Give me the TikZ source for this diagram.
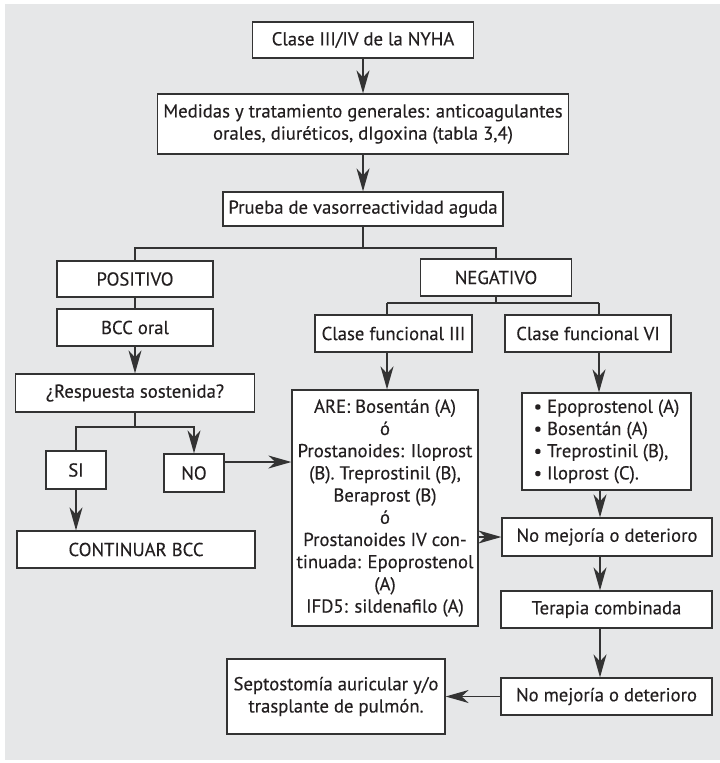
\documentclass[tikz,border=0pt]{standalone}
\usepackage{fontspec}
\setmainfont{PT Sans}[FakeBold=0.3]
\usetikzlibrary{arrows.meta}
\definecolor{panel}{HTML}{E6E7E8}
\definecolor{ink}{HTML}{231F20}
\definecolor{rule}{HTML}{333333}
\tikzset{
  box/.style={draw=rule, line width=1.2pt, fill=white, inner sep=0pt,
    align=center, text=ink, font=\fontsize{18.7pt}{22.2pt}\selectfont},
  link/.style={draw=rule, line width=1.4pt},
  flow/.style={link, -{Stealth[length=23pt,width=13pt,inset=7pt]}},
}
\begin{document}
\begin{tikzpicture}[x=1pt,y=-1pt]
\useasboundingbox (0,0) rectangle (720,763);
\fill[panel] (5,4) rectangle (720,760);

% main trunk
\node[box, minimum width=221pt, minimum height=36pt] (nyha) at (363,40) {Clase III/IV de la NYHA};
\node[box, minimum width=411pt, minimum height=60pt] (medidas) at (363,124)
  {Medidas y tratamiento generales: anticoagulantes\\orales, diuréticos, dIgoxina (tabla 3,4)};
\node[box, minimum width=280pt, minimum height=34pt] (prueba) at (363,209) {Prueba de vasorreactividad aguda};

% positive branch
\node[box, minimum width=156pt, minimum height=36pt] (pos) at (135,279) {POSITIVO};
\node[box, minimum width=156pt, minimum height=37pt] (bcc) at (135,327.5) {BCC oral};
\node[box, minimum width=239pt, minimum height=38pt] (resp) at (135,393) {¿Respuesta sostenida?};
\node[box, minimum width=60pt, minimum height=38pt] (si) at (76,470) {SI};
\node[box, minimum width=60pt, minimum height=38pt] (no) at (194,473) {NO};
\node[box, minimum width=238pt, minimum height=37pt] (cont) at (136,549.5) {CONTINUAR BCC};

% negative branch
\node[box, minimum width=151pt, minimum height=37pt] (neg) at (496,277.5) {NEGATIVO};
\node[box, minimum width=157pt, minimum height=37pt] (c3) at (393.5,333.5) {Clase funcional III};
\node[box, minimum width=186pt, minimum height=236pt] (are) at (385,508)
  {ARE: Bosentán (A)\\ó\\Prostanoides: Iloprost\\(B). Treprostinil (B),\\Beraprost (B)\\ó\\Prostanoides IV con-\\tinuada: Epoprostenol\\(A)\\IFD5: sildenafilo (A)};
\node[box, minimum width=166pt, minimum height=37pt] (c6) at (588,333.5) {Clase funcional VI};
\node[box, align=left, minimum width=169pt, minimum height=97pt] (list) at (606.5,441.5)
  {\textbullet\ Epoprostenol (A)\\\textbullet\ Bosentán (A)\\\textbullet\ Treprostinil (B),\\\textbullet\ Iloprost (C).};
\node[box, minimum width=210pt, minimum height=38pt] (nm1) at (607,537) {No mejoría o deterioro};
\node[box, minimum width=211pt, minimum height=37pt] (ter) at (606.5,609.5) {Terapia combinada};
\node[box, minimum width=211pt, minimum height=37pt] (nm2) at (606.5,696.5) {No mejoría o deterioro};
\node[box, minimum width=218pt, minimum height=75pt] (sep) at (336,696.5)
  {Septostomía auricular y/o\\trasplante de pulmón.};

% junction points of the split lines
\coordinate (fork1) at (363,248);
\coordinate (fork2) at (496,303);
\coordinate (drop3) at (387,303);
\coordinate (drop6) at (599,303);
\coordinate (fork3) at (135,427);
\coordinate (spine) at (600,0);

% trunk connectors
\draw[flow] (nyha.south) -- (nyha.south |- medidas.north);
\draw[flow] (medidas.south) -- (medidas.south |- prueba.north);
\draw[link] (prueba.south) -- (fork1);
\draw[link] (pos.north) |- (fork1) -| (neg.north);

% positive branch connectors
\draw[link] (pos) -- (bcc);
\draw[flow] (bcc.south) -- (bcc.south |- resp.north);
\draw[link] (resp.south) -- (fork3) -| (si.north);
\draw[flow] (fork3) -| (no.north);
\draw[flow] (si.south) -- (si.south |- cont.north);
\draw[flow] ([yshift=11pt]no.east) -- ([yshift=11pt]no.east -| are.west);

% negative branch connectors
\draw[link] (neg.south) -- (fork2);
\draw[link] (drop3) -- (drop6);
\draw[link] (drop3) -- (drop3 |- c3.north);
\draw[link] (drop6) -- (drop6 |- c6.north);
\draw[flow] (drop3 |- c3.south) -- (drop3 |- are.north);
\draw[flow] (drop6 |- c6.south) -- (drop6 |- list.north);
\draw[flow] (spine |- list.south) -- (spine |- nm1.north);
\draw[flow] (are.east |- nm1) -- (nm1.west);
\draw[flow] (spine |- nm1.south) -- (spine |- ter.north);
\draw[flow] (spine |- ter.south) -- (spine |- nm2.north);
\draw[flow] (nm2.west) -- (nm2.west -| sep.east);
\end{tikzpicture}
\end{document}
